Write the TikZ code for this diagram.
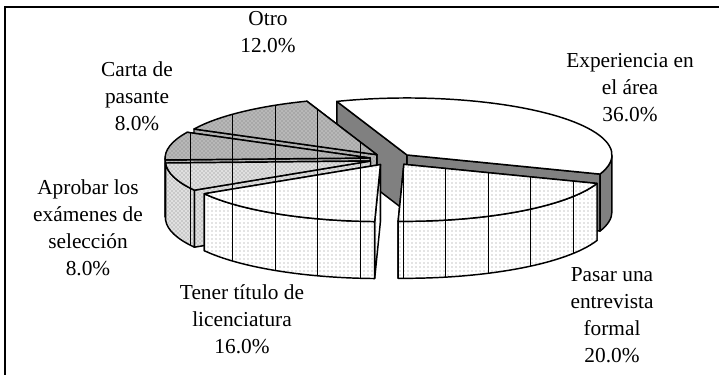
\documentclass[tikz,border=0pt]{standalone}
\usepackage{fontspec}
\setmainfont{Liberation Serif}
\usetikzlibrary{calc, patterns}

\tikzset{
  piecut/.style={draw=black, line width=1.1pt, line join=round},
  gridlines/.style={path picture={
    \foreach \gx in {0,...,9} {
      \draw[line width=0.6pt] ({190+42.6*\gx},0) -- ({190+42.6*\gx},375);
    }}},
  whitetop/.style={piecut, fill=white},
  darkwall/.style={piecut, fill=black!50},
  lightdots/.style={piecut, preaction={fill=white}, pattern=dots, pattern color=black!45, gridlines},
  middots/.style={piecut, preaction={fill=black!12}, pattern=crosshatch dots, pattern color=black!50, gridlines},
  darkdots/.style={piecut, preaction={fill=black!28}, pattern=crosshatch dots, pattern color=black!55, gridlines},
  lbl/.style={font=\fontsize{16}{20.25}\selectfont, align=center, inner sep=0pt}
}

% start angle, end angle, front wall from, front wall to, top style, wall style
\newcommand{\pieslice}[6]{%
  \coordinate (apex) at ($(C)+({(#1+#2)/2}:21.9 and 6.1)$);
  \path[#6] (apex) -- ++(#1:205 and 57) -- ++(0,-57) -- ($(apex)+(0,-57)$) -- cycle;
  \path[#6] (apex) -- ++(#2:205 and 57) -- ++(0,-57) -- ($(apex)+(0,-57)$) -- cycle;
  \ifdim #3pt<#4pt
    \path[#6] ($(apex)+(#3:205 and 57)$) arc[start angle=#3, end angle=#4, x radius=205, y radius=57]
      -- ++(0,-57) arc[start angle=#4, end angle=#3, x radius=205, y radius=57] -- cycle;
  \fi
  \path[#5] (apex) -- ++(#1:205 and 57) arc[start angle=#1, end angle=#2, x radius=205, y radius=57] -- cycle;
}

\begin{document}
\begin{tikzpicture}[x=0.75pt, y=0.75pt]
\useasboundingbox (0,0) rectangle (719,375);

% Frame
\draw[line width=1.1pt] (719,368) -- (5,368) -- (5,0);

\coordinate (C) at (391.5,215.7);

% Slices, back to front
\pieslice{-19.6}{110}{-19.6}{0}{whitetop}{darkwall}
\pieslice{110}{153.2}{0}{0}{darkdots}{darkdots}
\pieslice{153.2}{182}{180}{182}{darkdots}{darkdots}
\pieslice{182}{210.8}{182}{210.8}{middots}{middots}
\pieslice{210.8}{268.4}{210.8}{268.4}{lightdots}{lightdots}
\pieslice{268.4}{340.4}{268.4}{340.4}{lightdots}{lightdots}

% Labels
\node[lbl] (otro) at (268,343) {Otro\\12.0\%};
\node[lbl] (carta) at (137,278.3) {Carta de\\pasante\\8.0\%};
\node[lbl] (aprobar) at (88,147) {Aprobar los\\exámenes de\\selección\\8.0\%};
\node[lbl] (tener) at (242,56) {Tener título de\\licenciatura\\16.0\%};
\node[lbl] (pasar) at (612,60) {Pasar una\\entrevista\\formal\\20.0\%};
\node[lbl] (exper) at (630,287.7) {Experiencia en\\el área\\36.0\%};
\end{tikzpicture}
\end{document}
